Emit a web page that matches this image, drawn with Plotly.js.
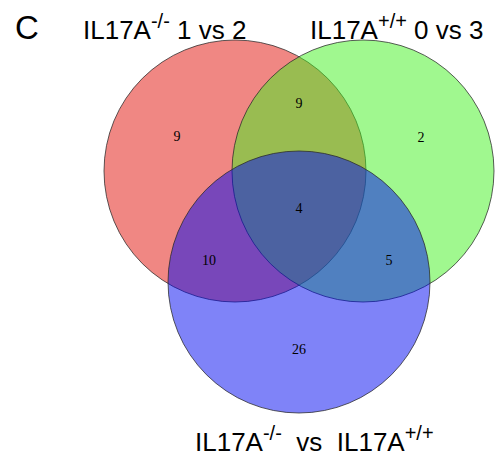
<!DOCTYPE html>
<html>
<head>
<meta charset="utf-8">
<script src="https://cdn.plot.ly/plotly-3.0.1.min.js"></script>
<style>html,body{margin:0;padding:0;background:#fff}#chart{width:498px;height:457px}</style>
</head>
<body>
<div id="chart"></div>
<script>
// Data
var supMinus = "<sup><span style=\"font-size:20px\">-/-</span></sup>";
var supPlus = "<sup><span style=\"font-size:20px\">+/+</span></sup>";
var setNames = ["IL17A" + supMinus + " 1 vs 2", "IL17A" + supPlus + " 0 vs 3", "IL17A" + supMinus + "  vs  IL17A" + supPlus];
var regionNames = ["A only", "A∩B", "B only", "A∩B∩C", "A∩C", "B∩C", "C only"];
var regionCounts = [9, 9, 2, 4, 10, 5, 26];
var panelLabel = "C";

// Layout geometry (pixels, y downward)
var R = 131;
var circles = [
  {cx: 235, cy: 171, color: "rgba(225,15,7,0.5)"},
  {cx: 363, cy: 171, color: "rgba(65,241,31,0.5)"},
  {cx: 299, cy: 282, color: "rgba(0,7,241,0.5)"}
];
var labelPos = [[177,137],[299,104],[421,138],[299,209],[209,261],[389,261],[299,350]];

var shapes = circles.map(function(c){
  return {type:"circle", xref:"x", yref:"y", x0:c.cx-R, x1:c.cx+R, y0:c.cy-R, y1:c.cy+R,
    fillcolor:c.color, line:{color:"rgba(40,40,40,0.75)", width:1}, layer:"below"};
});

var trace = {
  type:"scatter", mode:"text",
  x: labelPos.map(function(p){return p[0];}),
  y: labelPos.map(function(p){return p[1];}),
  text: regionCounts.map(String),
  textfont:{family:"Liberation Serif, Times New Roman, serif", size:14, color:"#000"},
  hoverinfo:"none", showlegend:false
};

var annFont = {family:"Liberation Sans, Arial, sans-serif", size:26, color:"#000"};
var annotations = [
  {text:panelLabel, x:27, y:27, xref:"x", yref:"y", showarrow:false, font:{family:"Liberation Sans, Arial, sans-serif", size:33, color:"#000"}},
  {text:setNames[0], x:164, y:27, xref:"x", yref:"y", showarrow:false, font:annFont},
  {text:setNames[1], x:396, y:27, xref:"x", yref:"y", showarrow:false, font:annFont},
  {text:setNames[2], x:314, y:439, xref:"x", yref:"y", showarrow:false, font:annFont}
];

var layout = {
  width:498, height:457,
  margin:{l:0,r:0,t:0,b:0,pad:0},
  paper_bgcolor:"#fff", plot_bgcolor:"rgba(0,0,0,0)",
  xaxis:{range:[0,498], visible:false, fixedrange:true},
  yaxis:{range:[457,0], visible:false, fixedrange:true},
  shapes:shapes, annotations:annotations, showlegend:false
};

Plotly.newPlot("chart", [trace], layout, {staticPlot:true, displayModeBar:false});
</script>
</body>
</html>
